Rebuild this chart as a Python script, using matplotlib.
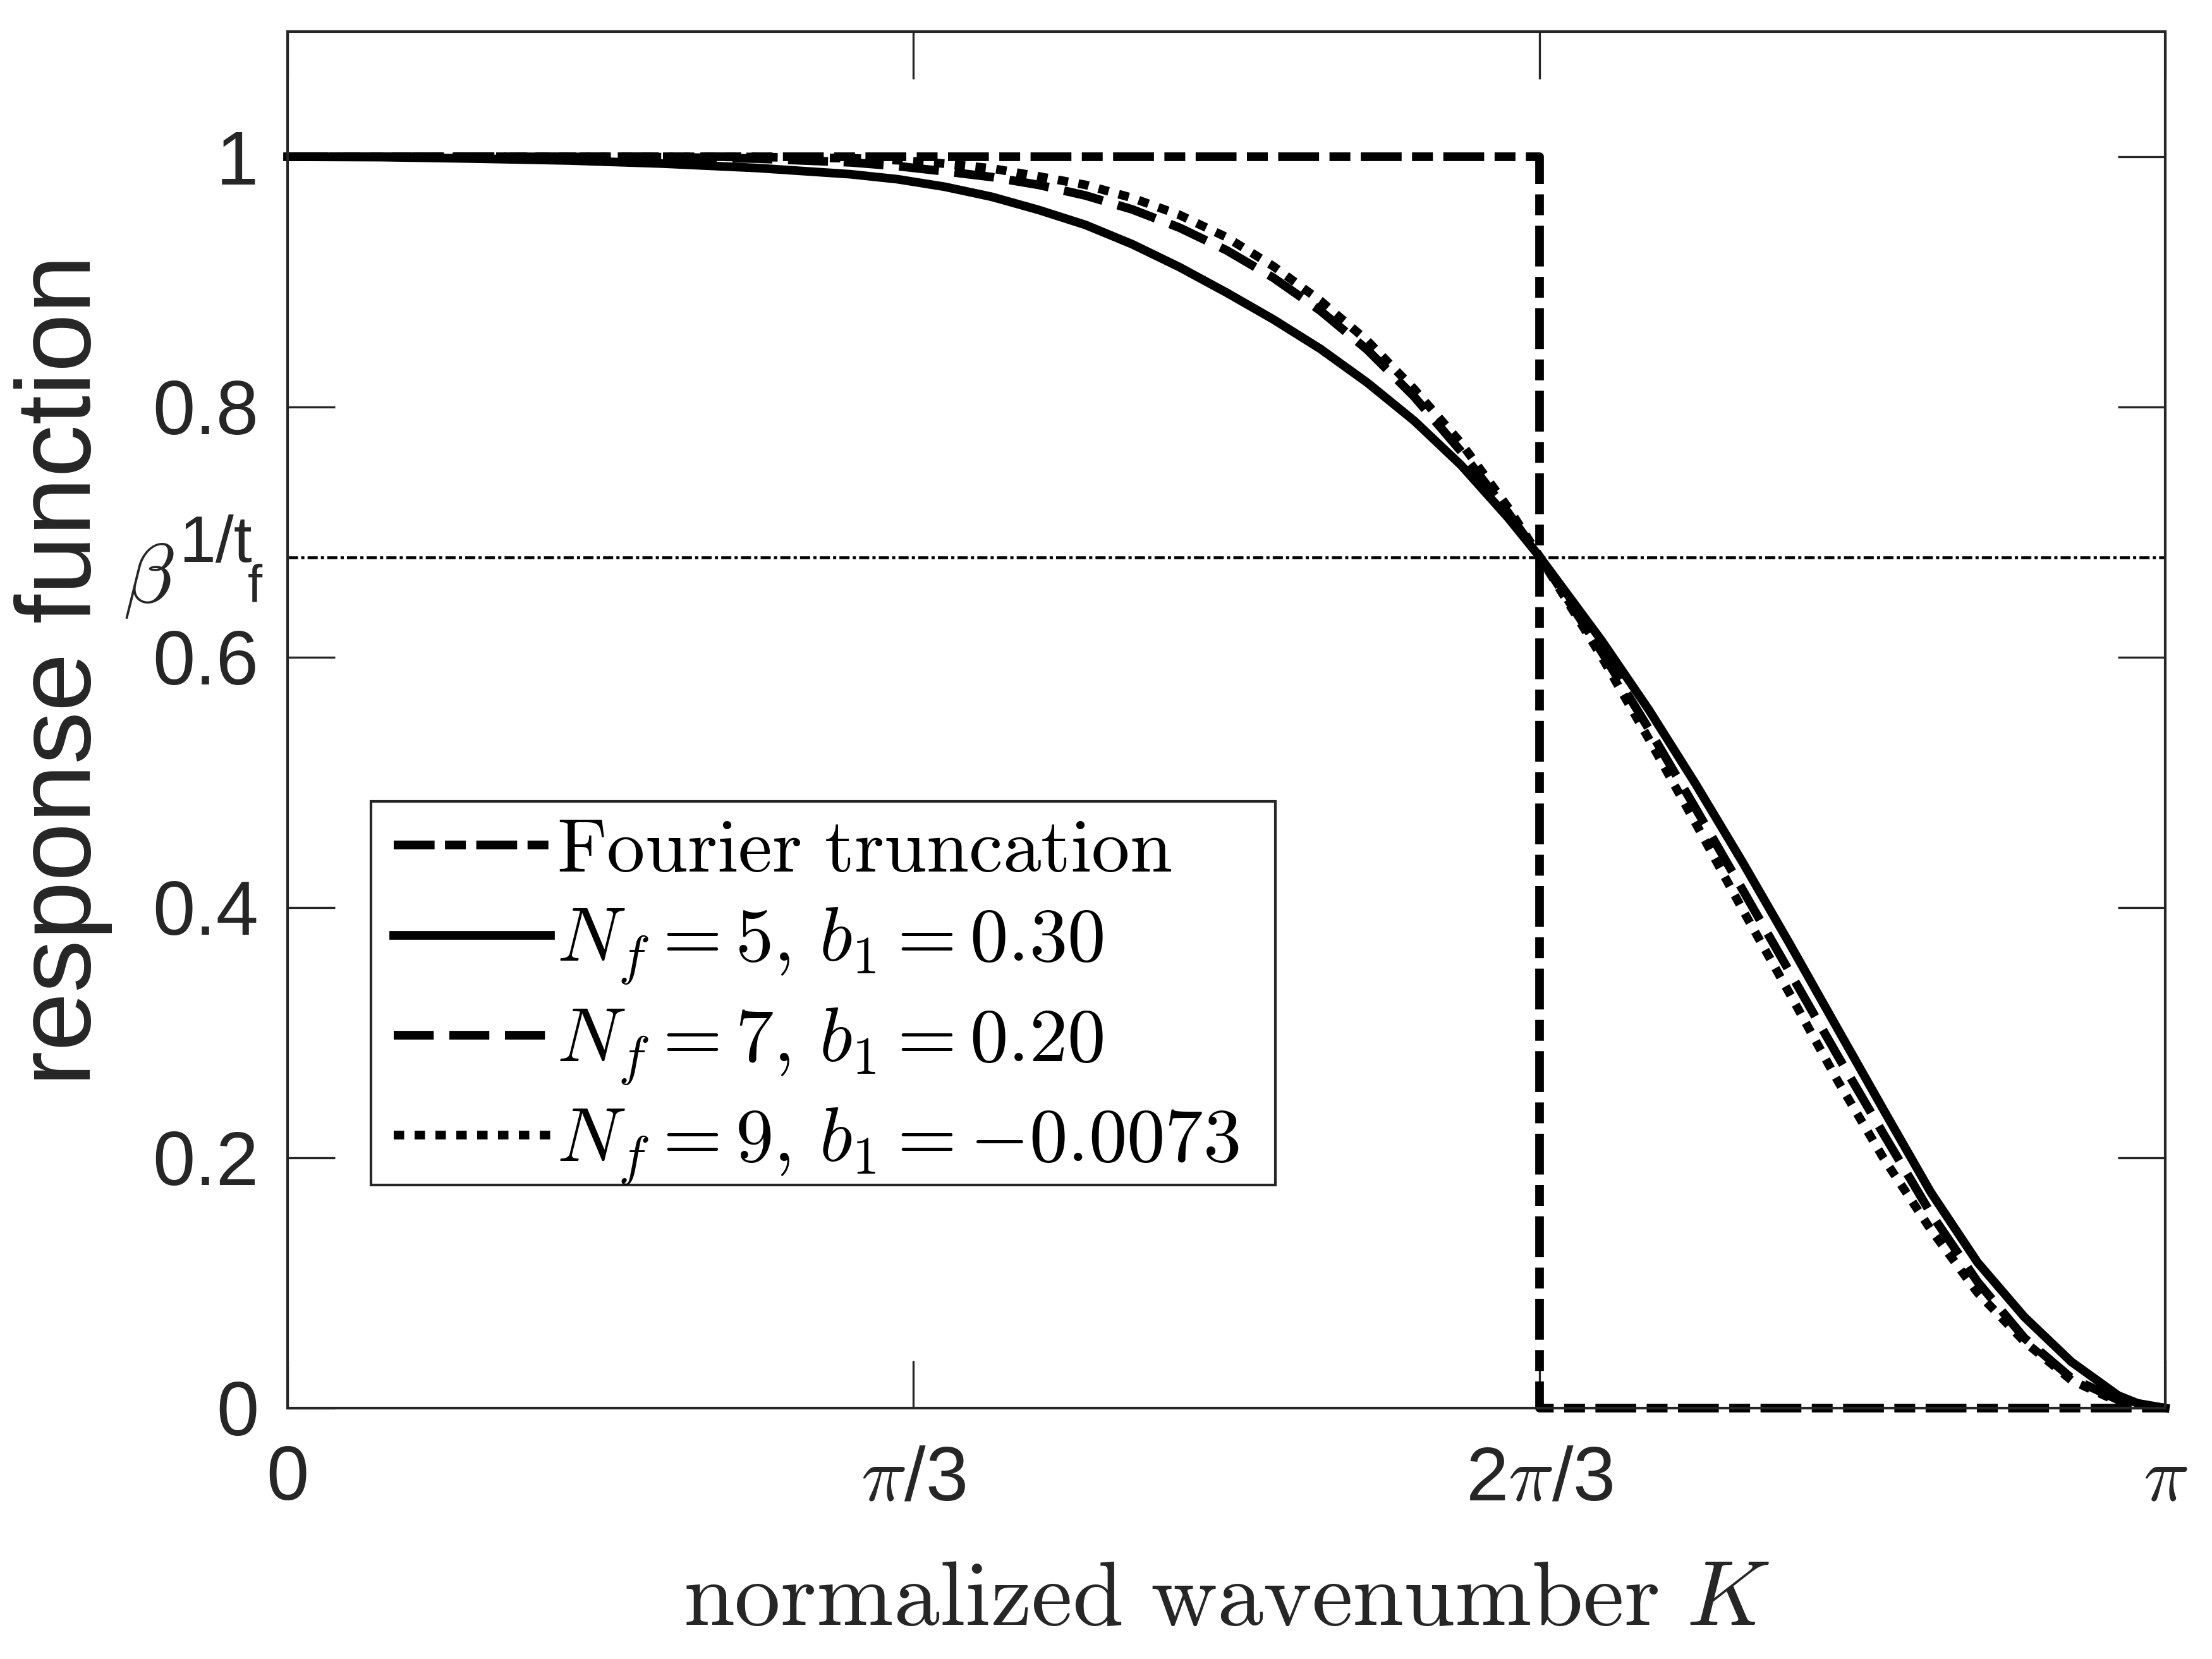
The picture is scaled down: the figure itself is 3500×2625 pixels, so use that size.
import numpy as np
import matplotlib.pyplot as plt
from matplotlib.patches import Rectangle

plt.rcParams['font.family'] = ['Liberation Sans', 'DejaVu Sans']
plt.rcParams['mathtext.fontset'] = 'cm'

# wavenumber in units of pi, response
k_fourier = [0.0, 2/3, 2/3, 1.0]
r_fourier = [1.0, 1.0, 0.0, 0.0]

k_n5 = [0.0, 0.05, 0.1, 0.15, 0.2, 0.25, 0.3, 0.325, 0.35, 0.375, 0.4, 0.425,
        0.45, 0.475, 0.5, 0.525, 0.55, 0.575, 0.6, 0.625, 0.65, 0.667, 0.7,
        0.725, 0.75, 0.775, 0.8, 0.825, 0.85, 0.875, 0.9, 0.925, 0.95, 0.975,
        0.9875, 1.0]
r_n5 = [1.0, 0.9997, 0.9985, 0.997, 0.9945, 0.991, 0.986, 0.982, 0.976, 0.968,
        0.9575, 0.9455, 0.930, 0.9118, 0.8915, 0.870, 0.8465, 0.8195, 0.789,
        0.7535, 0.7115, 0.680, 0.613, 0.558, 0.4985, 0.436, 0.371, 0.3045,
        0.2383, 0.1728, 0.1165, 0.0728, 0.037, 0.010, 0.0025, 0.0]

k_n7 = [0.0, 0.1, 0.2, 0.25, 0.3, 0.325, 0.35, 0.375, 0.4, 0.425, 0.45, 0.475,
        0.5, 0.525, 0.55, 0.575, 0.6, 0.625, 0.65, 0.667, 0.7, 0.725, 0.75,
        0.775, 0.8, 0.825, 0.85, 0.875, 0.9, 0.925, 0.95, 0.975, 1.0]
r_n7 = [1.0, 1.0, 0.9997, 0.9985, 0.9955, 0.9925, 0.9883, 0.9838, 0.9775,
        0.969, 0.9578, 0.9433, 0.9253, 0.9033, 0.877, 0.8458, 0.8083, 0.7645,
        0.7157, 0.680, 0.604, 0.5427, 0.479, 0.414, 0.3485, 0.283, 0.219,
        0.156, 0.101, 0.056, 0.024, 0.0065, 0.0]

k_n9 = [0.0, 0.2, 0.25, 0.3, 0.325, 0.35, 0.375, 0.4, 0.425, 0.45, 0.475, 0.5,
        0.525, 0.55, 0.575, 0.6, 0.625, 0.65, 0.667, 0.7, 0.725, 0.75, 0.775,
        0.8, 0.825, 0.85, 0.875, 0.9, 0.925, 0.95, 0.975, 1.0]
r_n9 = [1.0, 1.0, 0.9998, 0.9988, 0.9972, 0.9945, 0.9907, 0.9843, 0.9775,
        0.967, 0.9535, 0.9357, 0.9125, 0.885, 0.853, 0.8143, 0.7712, 0.7198,
        0.680, 0.600, 0.5347, 0.4672, 0.3981, 0.3312, 0.263, 0.1996, 0.143,
        0.0923, 0.0531, 0.0223, 0.005, 0.0]

beta_level = 0.68

labels = [r'$\mathrm{Fourier\ truncation}$',
          r'$N_f=5,\,b_1=0.30$',
          r'$N_f=7,\,b_1=0.20$',
          r'$N_f=9,\,b_1=-0.0073$']

W, H = 3500, 2625
fig = plt.figure(figsize=(W / 300, H / 300), dpi=300)
ax = fig.add_axes([455 / W, 1 - 2228 / H, (3426 - 455) / W, 2178 / H])

lw = 3.3
ax.plot(np.array(k_fourier) * np.pi, r_fourier, color='black', lw=lw,
        dashes=(4.7, 1.2, 2.4, 1.2), clip_on=False, label=labels[0])
ax.plot(np.array(k_n5) * np.pi, r_n5, color='black', lw=lw, clip_on=False,
        label=labels[1])
ax.plot(np.array(k_n7) * np.pi, r_n7, color='black', lw=lw,
        dashes=(4.6, 1.8), clip_on=False, label=labels[2])
ax.plot(np.array(k_n9) * np.pi, r_n9, color='black', lw=lw,
        dashes=(1.2, 1.2), clip_on=False, label=labels[3])
ax.axhline(beta_level, color='black', lw=1.1, dashes=(3.5, 1.1, 1.1, 1.1))

ax.set_xlim(0, np.pi)
ax.set_ylim(0, 1.1)
ax.set_xticks([0, np.pi / 3, 2 * np.pi / 3, np.pi])
ax.set_xticklabels(['0', r'$\pi$/3', r'2$\pi$/3', r'$\pi$'])
ax.set_yticks([0, 0.2, 0.4, 0.6, 0.8, 1.0])
ax.set_yticklabels(['0', '0.2', '0.4', '0.6', '0.8', '1'])

gray = '#262626'
ax.tick_params(direction='in', length=18, width=0.8, color=gray,
               labelcolor=gray, labelsize=29, top=True, right=True)
ax.tick_params(axis='y', pad=11)
ax.tick_params(axis='x', pad=14)
for s in ax.spines.values():
    s.set_linewidth(1.0)
    s.set_color(gray)

ax.set_ylabel('response function', fontsize=40, color=gray)
ax.yaxis.label.set_va('center')
ax.yaxis.set_label_coords(-0.1195, 0.536)
ax.set_xlabel(r'$\mathrm{normalized\ wavenumber}\ K$', fontsize=35, color=gray)
ax.xaxis.label.set_va('center')
ax.xaxis.set_label_coords(0.5, -0.140)

# beta^(1/t_f) marker next to the y axis
fig.text(195 / W, 1 - 953 / H, r'$\beta$', fontsize=32, color=gray,
         ha='left', va='baseline')
fig.text(283 / W, 1 - 888 / H, '1/t', fontsize=25, color=gray,
         ha='left', va='baseline')
fig.text(392 / W, 1 - 953 / H, 'f', fontsize=20, color=gray,
         ha='left', va='baseline')

# legend frame drawn separately so its box matches the original
ax.add_patch(Rectangle((132 / 2971, 353 / 2178), 1431 / 2971, 607 / 2178,
                       transform=ax.transAxes, facecolor='white',
                       edgecolor=gray, lw=1.0, zorder=4))
leg = ax.legend(loc='upper left', bbox_to_anchor=(132 / 2971, 0.4463),
                fontsize=29, frameon=False, handlelength=2.05,
                handletextpad=0.08, labelspacing=0.25, borderpad=0.3,
                borderaxespad=0)
leg.set_zorder(5)

fig.savefig('out.png', dpi=300)
